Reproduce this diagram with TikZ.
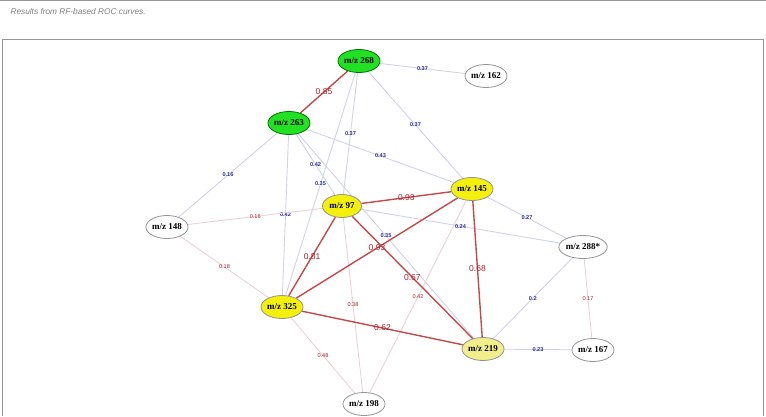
\documentclass[tikz,border=0pt]{standalone}
\usepackage{fontspec}
\setmainfont{Liberation Serif}
\setsansfont{Liberation Sans}
\usepackage{xcolor}
\definecolor{hubgreen}{RGB}{34, 224, 34}
\definecolor{hubyellow}{RGB}{244, 240, 12}
\definecolor{paleyellow}{RGB}{242, 238, 140}
\definecolor{strongred}{RGB}{196, 74, 74}
\definecolor{weakblue}{RGB}{208, 210, 232}
\definecolor{weakpink}{RGB}{234, 210, 214}
\definecolor{labelblue}{RGB}{44, 44, 160}
\definecolor{labelred}{RGB}{172, 32, 44}
\definecolor{framegray}{RGB}{150, 150, 150}
\usepackage{tikz}
\usetikzlibrary{shapes,backgrounds}

\begin{document}
\begin{tikzpicture}[x=1pt, y=-1pt,
  mz/.style={ellipse, draw=gray!85, line width=0.8pt, fill=white, minimum width=39pt, minimum height=23pt, inner sep=0pt, font=\bfseries\fontsize{9}{9}\selectfont},
  hubg/.style={mz, fill=hubgreen, draw=green!45!black},
  huby/.style={mz, fill=hubyellow},
  strong/.style={draw=strongred, line width=1.4pt},
  weakb/.style={draw=weakblue, line width=0.9pt},
  weakp/.style={draw=weakpink, line width=0.9pt},
  slab/.style={text=labelred, font=\sffamily\fontsize{8.5}{8.5}\selectfont, inner sep=0pt},
  blab/.style={text=labelblue, font=\sffamily\bfseries\fontsize{5.6}{5.6}\selectfont, inner sep=0pt},
  rlab/.style={text=labelred, font=\sffamily\fontsize{5.6}{5.6}\selectfont, inner sep=0pt}
]
\useasboundingbox (0, 0) rectangle (766, 416);
\draw[framegray, line width=1.2pt] (0, 0.6) -- (766, 0.6);
\node[anchor=west, text=gray, font=\sffamily\itshape\fontsize{8.3}{8.3}\selectfont] (caption) at (7, 12) {Results from RF-based ROC curves.};
\draw[framegray, line width=0.9pt] (2, 416) -- (2, 39.5) -- (763.5, 39.5) -- (763.5, 416);

\node[hubg] (n268) at (359, 61) {m/z 268};
\node[mz] (n162) at (486, 76) {m/z 162};
\node[hubg] (n263) at (289, 123) {m/z 263};
\node[mz] (n148) at (167, 227) {m/z 148};
\node[huby] (n97) at (342, 206) {m/z 97};
\node[huby] (n145) at (472, 189) {m/z 145};
\node[mz] (n288) at (583, 247) {m/z 288*};
\node[huby] (n325) at (282, 307) {m/z 325};
\node[mz, fill=paleyellow] (n219) at (483, 349) {m/z 219};
\node[mz] (n167) at (593, 350) {m/z 167};
\node[mz] (n198) at (364, 404) {m/z 198};

\begin{scope}[on background layer]
\draw[weakb] (n268) -- node[blab] {0.37} (n162);
\draw[weakb] (n268) -- node[blab] {0.37} (n145);
\draw[weakb] (n268) -- node[blab] {0.37} (n97);
\draw[weakb] (n268) -- node[blab] {0.35} (n325);
\draw[weakb] (n263) -- node[blab] {0.43} (n145);
\draw[weakb] (n263) -- node[blab] {0.42} (n97);
\draw[weakb] (n263) -- node[blab] {0.42} (n325);
\draw[weakb] (n263) -- node[blab] {0.35} (n219);
\draw[weakb] (n263) -- node[blab] {0.16} (n148);
\draw[weakp] (n148) -- node[rlab] {0.16} (n97);
\draw[weakp] (n148) -- node[rlab] {0.18} (n325);
\draw[weakb] (n145) -- node[blab] {0.27} (n288);
\draw[weakb] (n97) -- node[blab] {0.24} (n288);
\draw[weakb] (n288) -- node[blab] {0.2} (n219);
\draw[weakp] (n288) -- node[rlab] {0.17} (n167);
\draw[weakb] (n219) -- node[blab] {0.23} (n167);
\draw[weakp] (n325) -- node[rlab] {0.48} (n198);
\draw[weakp] (n97) -- node[rlab] {0.38} (n198);
\draw[weakp] (n145) -- node[rlab] {0.42} (n198);
\draw[strong] (n268) -- node[slab] {0.85} (n263);
\draw[strong] (n97) -- node[slab] {0.93} (n145);
\draw[strong] (n325) -- node[slab] {0.93} (n145);
\draw[strong] (n97) -- node[slab] {0.81} (n325);
\draw[strong] (n97) -- node[slab] {0.67} (n219);
\draw[strong] (n145) -- node[slab] {0.68} (n219);
\draw[strong] (n325) -- node[slab] {0.62} (n219);
\end{scope}
\end{tikzpicture}
\end{document}
